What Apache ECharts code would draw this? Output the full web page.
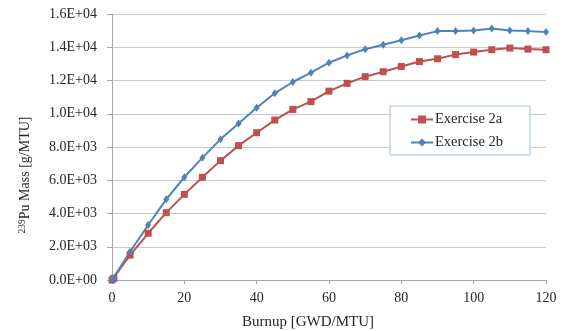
<!DOCTYPE html>
<html><head><meta charset="utf-8">
<script src="https://cdn.jsdelivr.net/npm/echarts@6/dist/echarts.min.js"></script>
<style>html,body{margin:0;padding:0;background:#fff}#c{width:563px;height:331px}</style>
</head><body><div id="c"></div>
<script>
var burnup = [0, 0.5, 5, 10, 15, 20, 25, 30, 35, 40, 45, 50, 55, 60, 65, 70, 75, 80, 85, 90, 95, 100, 105, 110, 115, 120];
var ex2a = [0, 100, 1500, 2810, 4050, 5150, 6180, 7180, 8080, 8860, 9620, 10260, 10730, 11360, 11830, 12230, 12530, 12840, 13140, 13310, 13560, 13710, 13850, 13950, 13890, 13850];
var ex2b = [0, 110, 1700, 3310, 4850, 6180, 7360, 8460, 9420, 10360, 11230, 11910, 12470, 13070, 13510, 13880, 14150, 14420, 14710, 14970, 14970, 15010, 15130, 15010, 14970, 14910];
var seriesNames = ['Exercise 2a', 'Exercise 2b'];
var xTitle = 'Burnup [GWD/MTU]';

function pairs(xs, ys) { return xs.map(function (x, i) { return [x, ys[i]]; }); }
function sci(v) {
  if (v === 0) return '0.0E+00';
  var e = Math.floor(Math.log10(v) + 1e-9);
  var m = v / Math.pow(10, e);
  return m.toFixed(1) + 'E+' + (e < 10 ? '0' + e : '' + e);
}
var font = 'Liberation Serif';
var txt = '#262626';
var chart = echarts.init(document.getElementById('c'));
chart.setOption({
  animation: false,
  backgroundColor: '#fff',
  grid: { left: 112, right: 17, top: 14, bottom: 51 },
  xAxis: {
    type: 'value', min: 0, max: 120, interval: 20,
    axisLine: { show: true, lineStyle: { color: '#a6a6a6' } },
    axisTick: { show: true, length: 4, lineStyle: { color: '#a6a6a6' } },
    axisLabel: { color: txt, fontFamily: font, fontSize: 14, margin: 11 },
    splitLine: { show: false }
  },
  yAxis: {
    type: 'value', min: 0, max: 16000, interval: 2000,
    axisLine: { show: true, lineStyle: { color: '#a6a6a6' } },
    axisTick: { show: true, length: 5, lineStyle: { color: '#a6a6a6' } },
    axisLabel: { color: txt, fontFamily: font, fontSize: 14, margin: 15, formatter: sci },
    splitLine: { show: true, lineStyle: { color: '#c8c8c8', width: 1 } }
  },
  legend: {
    orient: 'vertical', left: 390, top: 106,
    backgroundColor: '#fff', borderColor: '#a7c0dc', borderWidth: 1,
    padding: [6, 27, 5, 20], itemGap: 8, itemWidth: 22, itemHeight: 10,
    textStyle: { color: txt, fontFamily: font, fontSize: 14.5, padding: [0, 0, 0, -3] },
    data: seriesNames
  },
  graphic: [
    {
      type: 'text', x: 25, y: 175, rotation: Math.PI / 2,
      style: {
        text: '{s|239}{n|Pu Mass [g/MTU]}', align: 'center', verticalAlign: 'middle',
        rich: {
          s: { fontFamily: font, fontSize: 9.5, fill: txt, verticalAlign: 'top', lineHeight: 15 },
          n: { fontFamily: font, fontSize: 14, fill: txt, lineHeight: 15 }
        }
      }
    },
    {
      type: 'text', x: 308, y: 322,
      style: { text: xTitle, align: 'center', verticalAlign: 'middle', fontFamily: font, fontSize: 15, fill: txt }
    }
  ],
  series: [
    {
      name: seriesNames[0], type: 'line', data: pairs(burnup, ex2a),
      symbol: 'rect', symbolSize: 7, showAllSymbol: true,
      lineStyle: { color: '#C0504D', width: 2 }, itemStyle: { color: '#C0504D' }
    },
    {
      name: seriesNames[1], type: 'line', data: pairs(burnup, ex2b),
      symbol: 'diamond', symbolSize: [6, 8], showAllSymbol: true,
      lineStyle: { color: '#4F81BD', width: 2 }, itemStyle: { color: '#4F81BD' }
    }
  ]
});
</script></body></html>
